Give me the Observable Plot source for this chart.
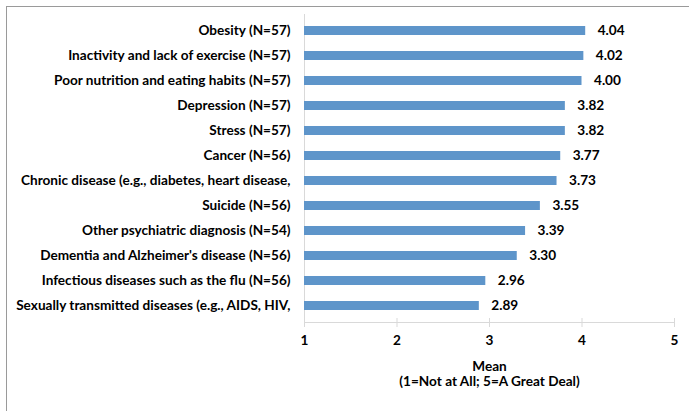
<!DOCTYPE html>
<html>
<head>
<meta charset="utf-8">
<script src="https://cdn.jsdelivr.net/npm/d3@7"></script>
<script src="https://cdn.jsdelivr.net/npm/@observablehq/plot@0.6"></script>
<style>
  html, body { margin: 0; padding: 0; background: #fff; }
  #wrap { position: relative; width: 689px; height: 411px; overflow: hidden; }
  #border { position: absolute; left: 6px; top: 6px; width: 700px; height: 420px;
            border-left: 1px solid #9a9a9a; border-top: 1px solid #9a9a9a; }
  #chart { position: absolute; left: 0; top: 0; }
  svg { font-family: Lato, "Open Sans", sans-serif; }
</style>
</head>
<body>
<div id="wrap"><div id="border"></div><div id="chart"></div></div>
<script>
const categories = [
  "Obesity (N=57)",
  "Inactivity and lack of exercise (N=57)",
  "Poor nutrition and eating habits (N=57)",
  "Depression (N=57)",
  "Stress (N=57)",
  "Cancer (N=56)",
  "Chronic disease (e.g., diabetes, heart disease,",
  "Suicide (N=56)",
  "Other psychiatric diagnosis (N=54)",
  "Dementia and Alzheimer's disease (N=56)",
  "Infectious diseases such as the flu (N=56)",
  "Sexually transmitted diseases (e.g., AIDS, HIV,"
];
const means = [4.04, 4.02, 4.00, 3.82, 3.82, 3.77, 3.73, 3.55, 3.39, 3.30, 2.96, 2.89];
const xTicks = [1, 2, 3, 4, 5];
const axisTitle = "Mean\n(1=Not at All; 5=A Great Deal)";

const data = categories.map((c, i) => ({category: c, mean: means[i]}));
const fs = 13.6;

const chart = Plot.plot({
  width: 689,
  height: 411,
  marginLeft: 304,
  marginRight: 15,
  marginTop: 14,
  marginBottom: 89,
  style: {fontFamily: "Lato, 'Open Sans', sans-serif", background: "transparent"},
  x: {domain: [1, 5]},
  y: {domain: categories, paddingInner: 0.65, paddingOuter: 0.325},
  marks: [
    Plot.frame({anchor: "left", stroke: "#d9d9d9"}),
    Plot.frame({anchor: "bottom", stroke: "#d9d9d9"}),
    Plot.barX(data, {x1: 1, x2: "mean", y: "category", fill: "#5e95ca"}),
    Plot.text(data, {x: "mean", y: "category", text: d => d.mean.toFixed(2), dx: 12, textAnchor: "start",
      fontSize: fs, fontWeight: "bold", fill: "#000"}),
    Plot.axisY({tickSize: 0, tickPadding: 14, label: null, fontSize: fs, fontWeight: "bold", color: "#000"}),
    Plot.axisX({ticks: xTicks, tickSize: 9, dy: -4, text: null, label: null, stroke: "#d9d9d9"}),
    Plot.axisX({ticks: xTicks, tickSize: 0, tickPadding: 13, tickFormat: d => String(d), label: null,
      fontSize: fs, fontWeight: "bold", color: "#000"}),
    Plot.text([axisTitle], {frameAnchor: "bottom", text: d => d, lineAnchor: "top", dy: 37,
      lineHeight: 1.15, fontSize: fs, fontWeight: "bold", fill: "#000"})
  ]
});
document.getElementById("chart").appendChild(chart);
</script>
</body>
</html>
